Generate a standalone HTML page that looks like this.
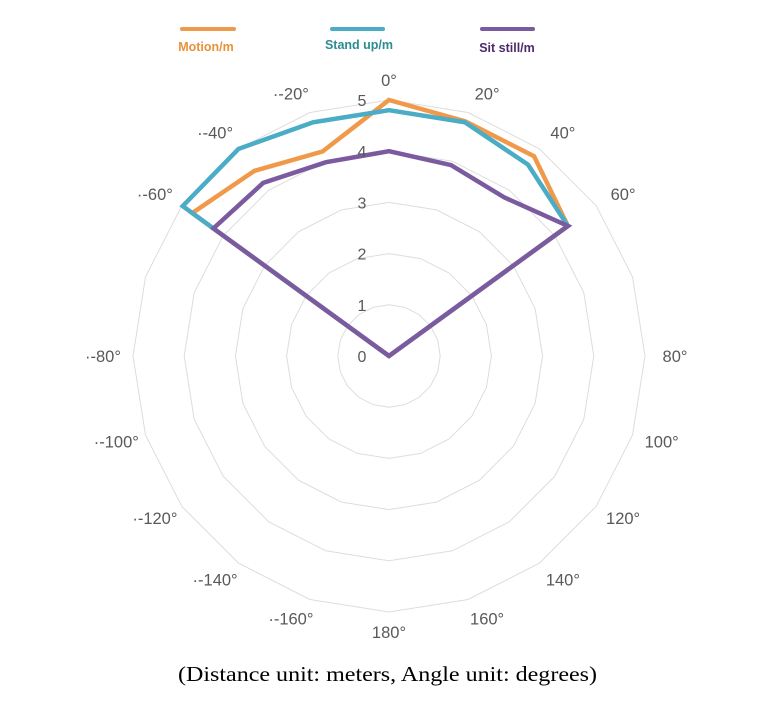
<!DOCTYPE html>
<html><head><meta charset="utf-8"><style>
body{margin:0;background:#fff;}
svg{display:block;font-family:"Liberation Sans",sans-serif;}
</style></head><body>
<svg id="chart" width="775" height="701" viewBox="0 0 775 701">
<g id="grid"></g>
<g id="series"></g>
<g id="labels"></g>
<g>
  <g>
    <line x1="182" y1="29" x2="234" y2="29" stroke="#F0994A" stroke-width="4" stroke-linecap="round"/>
    <text x="206" y="51" text-anchor="middle" font-size="12.5" font-weight="bold" fill="#E8923A">Motion/m</text>
  </g>
  <g>
    <line x1="332" y1="29" x2="383" y2="29" stroke="#4BACC6" stroke-width="4" stroke-linecap="round"/>
    <text x="359" y="49" text-anchor="middle" font-size="12.5" font-weight="bold" fill="#2C8C90">Stand up/m</text>
  </g>
  <g>
    <line x1="482" y1="29" x2="533" y2="29" stroke="#7B5A9F" stroke-width="4" stroke-linecap="round"/>
    <text x="507" y="52" text-anchor="middle" font-size="12.5" font-weight="bold" fill="#4B2A6B">Sit still/m</text>
  </g>
</g>
<text x="178" y="681" textLength="419" lengthAdjust="spacingAndGlyphs" font-family="'Liberation Serif',serif" font-size="21" fill="#000">(Distance unit: meters, Angle unit: degrees)</text>
</svg>
<script>
const categories = ["0°","20°","40°","60°","","80°","100°","120°","140°","160°","180°","·-160°","·-140°","·-120°","·-100°","·-80°","","·-60°","·-40°","·-20°"];
const motion =   [5.0,4.82,4.82,4.32,0,0,0,0,0,0,0,0,0,0,0,0,0,4.75,4.47,4.2];
const standUp =  [4.8,4.8,4.62,4.32,0,0,0,0,0,0,0,0,0,0,0,0,0,4.98,5.0,4.8];
const sitStill = [4.0,3.92,3.83,4.32,0,0,0,0,0,0,0,0,0,0,0,0,0,4.24,4.18,3.98];
const rTicks = [0,1,2,3,4,5];
const NS="http://www.w3.org/2000/svg";
const cx=389, cy=356, unit=51.2;
function ang(i){return i*2*Math.PI/categories.length;}
function px(i,v){return cx+v*unit*Math.sin(ang(i));}
function py(i,v){return cy-v*unit*Math.cos(ang(i));}
function mk(tag,attrs,parent){const e=document.createElementNS(NS,tag);for(const k in attrs)e.setAttribute(k,attrs[k]);parent.appendChild(e);return e;}
const grid=document.getElementById('grid');
rTicks.forEach(t=>{ if(t===0) return;
  const pts=categories.map((c,i)=>px(i,t).toFixed(1)+','+py(i,t).toFixed(1)).join(' ');
  const p=mk('polygon',{points:pts,fill:'none',stroke:'#DDDDDD','stroke-width':1},grid);
  
  
});
const sg=document.getElementById('series');
[[motion,'#F0994A','series-motion'],[standUp,'#4BACC6','series-stand-up'],[sitStill,'#7B5A9F','series-sit-still']].forEach(([d,c,n])=>{
  const pts=d.map((v,i)=>px(i,v).toFixed(1)+','+py(i,v).toFixed(1)).join(' ');
  const p=mk('polygon',{points:pts,fill:'none',stroke:c,'stroke-width':4.5,'stroke-linejoin':'miter'},sg);
  
  
});
const lg=document.getElementById('labels');
rTicks.forEach(t=>{
  const e=mk('text',{x:362,y:cy-t*unit+6,'text-anchor':'middle','font-size':16,fill:'#595959'},lg);
  e.textContent=String(t);
  
  
});
categories.forEach((c,i)=>{
  if(!c) return;
  const a=ang(i), s=Math.sin(a);
  const sg2=Math.abs(s)<0.01?0:Math.sign(s);
  const x=cx+272*s+14*sg2, y=cy-276*Math.cos(a)+6;
  const e=mk('text',{x:x.toFixed(1),y:y.toFixed(1),'text-anchor':'middle','font-size':16.5,fill:'#595959'},lg);
  e.textContent=c;
  
  
});
</script>
</body></html>
